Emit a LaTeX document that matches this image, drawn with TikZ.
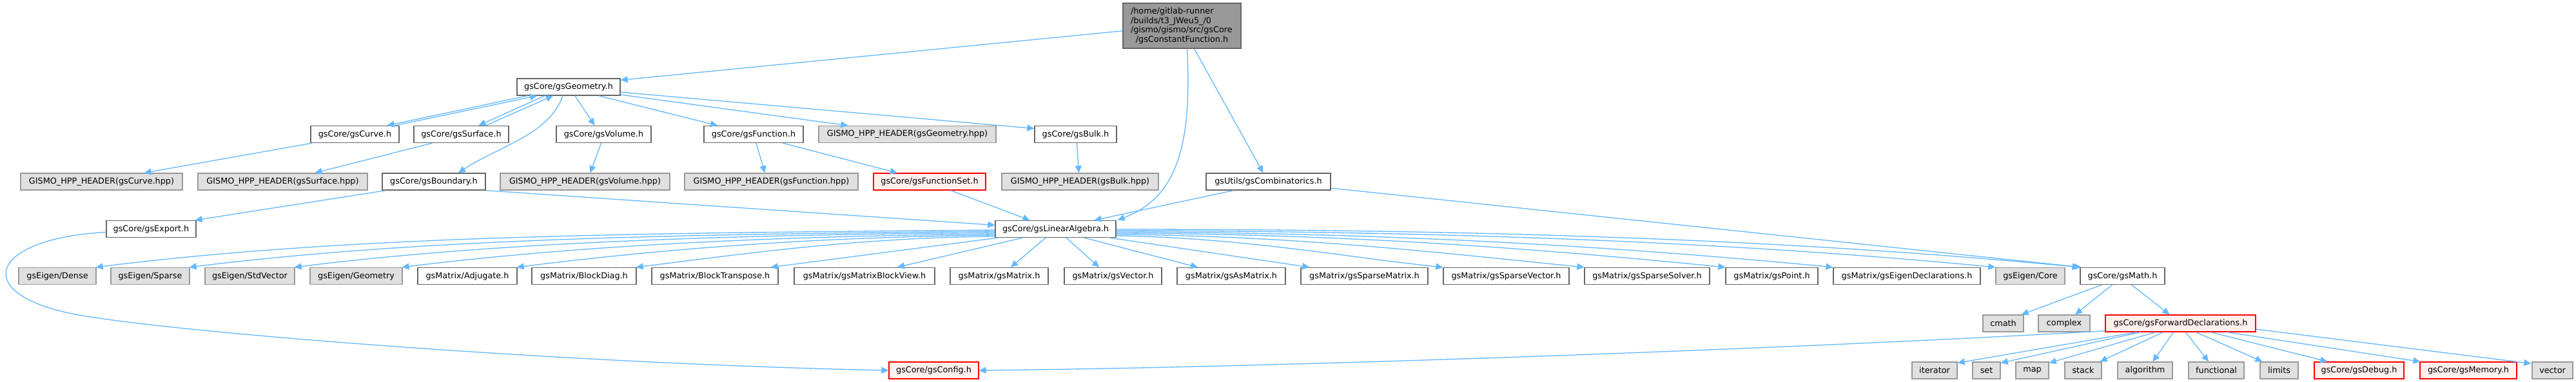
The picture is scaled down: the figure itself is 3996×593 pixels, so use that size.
\documentclass[tikz,border=0pt]{standalone}
\usepackage{fontspec}
\setmainfont{DejaVu Sans}
\usetikzlibrary{arrows.meta,calc}
\definecolor{edgec}{HTML}{63B8FF}
\definecolor{bordw}{HTML}{666666}
\definecolor{bordg}{HTML}{999999}
\definecolor{fillg}{HTML}{E0E0E0}
\definecolor{fillr}{HTML}{FFF0F0}
\definecolor{fillm}{HTML}{999999}
\begin{document}
\begin{tikzpicture}[x=1pt,y=-1pt,
 base/.style={rectangle, inner sep=0pt, minimum height=26pt, font=\fontsize{12.8}{14.7}\selectfont, line width=1.3pt, anchor=center},
 wbox/.style={base, draw=bordw, fill=white},
 gbox/.style={base, draw=bordg, fill=fillg},
 rbox/.style={base, draw=red, fill=fillr},
 mbox/.style={base, draw=bordw, fill=fillm},
 edge/.style={draw=edgec, line width=1.3pt, -{Triangle[length=11pt,width=10pt]}},
]
\fill[white] (0,0) rectangle (3996,593);
\useasboundingbox (0,0) rectangle (3996,593);

% row 1
\node[mbox, minimum width=183pt, minimum height=70pt, text width=159pt, align=left] (main) at (1833.5,40)
 {/home/gitlab-runner\\/builds/t3\_JWeu5\_/0\\/gismo/gismo/src/gsCore\\\makebox[\linewidth][c]{/gsConstantFunction.h}};
% row 2
\node[wbox, minimum width=160pt] (geom) at (882,135) {gsCore/gsGeometry.h};
% row 3
\node[wbox, minimum width=137pt] (curve) at (550.5,208.5) {gsCore/gsCurve.h};
\node[wbox, minimum width=147pt] (surface) at (715.5,208.5) {gsCore/gsSurface.h};
\node[wbox, minimum width=147pt] (volume) at (936.5,208.5) {gsCore/gsVolume.h};
\node[wbox, minimum width=154pt] (function) at (1169,208.5) {gsCore/gsFunction.h};
\node[gbox, minimum width=275pt] (geomhpp) at (1407.5,208.5) {GISMO\_HPP\_HEADER(gsGeometry.hpp)};
\node[wbox, minimum width=127pt] (bulk) at (1668.5,208.5) {gsCore/gsBulk.h};
% row 4
\node[gbox, minimum width=251pt] (curvehpp) at (157.5,282) {GISMO\_HPP\_HEADER(gsCurve.hpp)};
\node[gbox, minimum width=263pt] (surfacehpp) at (438.5,282) {GISMO\_HPP\_HEADER(gsSurface.hpp)};
\node[wbox, minimum width=160pt] (boundary) at (673,282) {gsCore/gsBoundary.h};
\node[gbox, minimum width=263pt] (volumehpp) at (907.5,282) {GISMO\_HPP\_HEADER(gsVolume.hpp)};
\node[gbox, minimum width=269pt] (functionhpp) at (1196.5,282) {GISMO\_HPP\_HEADER(gsFunction.hpp)};
\node[rbox, minimum width=174pt] (functionset) at (1442,282) {gsCore/gsFunctionSet.h};
\node[gbox, minimum width=243pt] (bulkhpp) at (1675.5,282) {GISMO\_HPP\_HEADER(gsBulk.hpp)};
\node[wbox, minimum width=193pt] (comb) at (1967.5,282) {gsUtils/gsCombinatorics.h};
% row 5
\node[wbox, minimum width=139pt] (export) at (234.5,355.5) {gsCore/gsExport.h};
\node[wbox, minimum width=187pt] (linalg) at (1637.5,355.5) {gsCore/gsLinearAlgebra.h};
% row 6
\node[gbox, minimum width=120pt] (dense) at (89,428.5) {gsEigen/Dense};
\node[gbox, minimum width=122pt] (sparse) at (233,428.5) {gsEigen/Sparse};
\node[gbox, minimum width=139pt] (stdvector) at (387.5,428.5) {gsEigen/StdVector};
\node[gbox, minimum width=143pt] (eigengeom) at (552.5,428.5) {gsEigen/Geometry};
\node[wbox, minimum width=154pt] (adjugate) at (725,428.5) {gsMatrix/Adjugate.h};
\node[wbox, minimum width=162pt] (blockdiag) at (906,428.5) {gsMatrix/BlockDiag.h};
\node[wbox, minimum width=196pt] (blocktranspose) at (1109,428.5) {gsMatrix/BlockTranspose.h};
\node[wbox, minimum width=218pt] (blockview) at (1341,428.5) {gsMatrix/gsMatrixBlockView.h};
\node[wbox, minimum width=152pt] (gsmatrix) at (1550,428.5) {gsMatrix/gsMatrix.h};
\node[wbox, minimum width=151pt] (gsvector) at (1726.5,428.5) {gsMatrix/gsVector.h};
\node[wbox, minimum width=168pt] (asmatrix) at (1910,428.5) {gsMatrix/gsAsMatrix.h};
\node[wbox, minimum width=197pt] (sparsematrix) at (2116.5,428.5) {gsMatrix/gsSparseMatrix.h};
\node[wbox, minimum width=195pt] (sparsevector) at (2336.5,428.5) {gsMatrix/gsSparseVector.h};
\node[wbox, minimum width=194pt] (sparsesolver) at (2555,428.5) {gsMatrix/gsSparseSolver.h};
\node[wbox, minimum width=143pt] (point) at (2748.5,428.5) {gsMatrix/gsPoint.h};
\node[wbox, minimum width=228pt] (eigendecl) at (2958,428.5) {gsMatrix/gsEigenDeclarations.h};
\node[gbox, minimum width=107pt] (eigencore) at (3149.5,428.5) {gsEigen/Core};
\node[wbox, minimum width=131pt] (math) at (3292.5,428.5) {gsCore/gsMath.h};
% row 7
\node[gbox, minimum width=63pt] (cmath) at (3107.5,502) {cmath};
\node[gbox, minimum width=80pt] (complex) at (3202,502) {complex};
\node[rbox, minimum width=233pt] (fwd) at (3382.5,502) {gsCore/gsForwardDeclarations.h};
% row 8
\node[rbox, minimum width=139pt] (config) at (1448.5,575) {gsCore/gsConfig.h};
\node[gbox, minimum width=70pt] (iterator) at (3001,575) {iterator};
\node[gbox, minimum width=43pt] (set) at (3081.5,575) {set};
\node[gbox, minimum width=51pt] (map) at (3152.5,575) {map};
\node[gbox, minimum width=57pt] (stack) at (3231.5,575) {stack};
\node[gbox, minimum width=85pt] (algorithm) at (3327.5,575) {algorithm};
\node[gbox, minimum width=86pt] (functional) at (3438,575) {functional};
\node[gbox, minimum width=59pt] (limits) at (3535.5,575) {limits};
\node[rbox, minimum width=139pt] (debug) at (3659.5,575) {gsCore/gsDebug.h};
\node[rbox, minimum width=150pt] (memory) at (3829,575) {gsCore/gsMemory.h};
\node[gbox, minimum width=63pt] (vector) at (3959.5,575) {vector};

% edges from main
\draw[edge] ($(main.west)+(0,8)$) -- ($(geom.north east)+(0,3)$);
\draw[edge] ($(main.south)+(8,0)$) .. controls +(8,155) and +(90,-35) .. ($(linalg.north east)+(2,0)$);
\draw[edge] ($(main.south)+(19,0)$) -- ($(comb.north)+(-8,0)$);
% gsGeometry
\draw[edge] ($(geom.south)+(-64,0)$) -- ($(curve.north)+(50,0)$);
\draw[edge] ($(curve.north)+(62,0)$) -- ($(geom.south)+(-49,0)$);
\draw[edge] ($(geom.south)+(-37,0)$) -- ($(surface.north)+(27,0)$);
\draw[edge] ($(surface.north)+(38,0)$) -- ($(geom.south)+(-24,0)$);
\draw[edge] ($(geom.south)+(-9,0)$) .. controls +(-20,60) and +(60,-40) .. ($(boundary.north)+(38,0)$);
\draw[edge] ($(geom.south)+(10,0)$) -- ($(volume.north)+(-14,0)$);
\draw[edge] ($(geom.south east)+(-34,0)$) -- ($(function.north)+(-56,0)$);
\draw[edge] ($(geom.east)+(0,12)$) -- ($(geomhpp.north west)+(46,0)$);
\draw[edge] ($(geom.east)+(0,8)$) -- ($(bulk.west)+(0,-9)$);
% row 3 -> row 4
\draw[edge] ($(curve.south west)+(3,0)$) -- ($(curvehpp.north)+(66,0)$);
\draw[edge] ($(surface.south)+(-45,0)$) -- ($(surfacehpp.north)+(50,0)$);
\draw[edge] ($(volume.south)+(-4,0)$) -- ($(volumehpp.north)+(8,0)$);
\draw[edge] ($(function.south)+(4,0)$) -- ($(functionhpp.north)+(-10,0)$);
\draw[edge] ($(function.south)+(45,0)$) -- ($(functionset.north)+(-50,0)$);
\draw[edge] ($(bulk.south)+(2,0)$) -- ($(bulkhpp.north)+(-2,0)$);
% row 4 -> row 5
\draw[edge] ($(boundary.south west)+(6,0)$) -- ($(export.north east)+(-2,0)$);
\draw[edge] (boundary.south east) -- ($(linalg.west)+(0,-6)$);
\draw[edge] ($(functionset.south)+(33,0)$) -- ($(linalg.north)+(-40,0)$);
\draw[edge] ($(comb.south)+(-54,0)$) -- ($(linalg.north)+(60,0)$);
\draw[edge] ($(comb.east)+(0,10)$) -- ($(math.north west)+(2,0)$);
% gsExport -> gsConfig
\draw[edge] ($(export.west)+(0,5)$) .. controls (-20,370) and (-50,460) .. (128,490) .. controls (300,519) and (900,565) .. (config.west);
% gsLinearAlgebra -> row 6
\draw[edge] ($(linalg.west)+(0,1.5)$) .. controls +(-545,5) and +(400,-50) .. ($(dense.north east)+(-1,0)$);
\draw[edge] ($(linalg.west)+(0,3.5)$) .. controls +(-488,5) and +(363,-45) .. ($(sparse.north east)+(-1,0)$);
\draw[edge] ($(linalg.west)+(0,5.5)$) .. controls +(-424,4) and +(316,-39) .. ($(stdvector.north east)+(-1,0)$);
\draw[edge] ($(linalg.west)+(0,7.5)$) .. controls +(-359,4) and +(267,-33) .. ($(eigengeom.north east)+(-1,0)$);
\draw[edge] ($(linalg.west)+(0,9.5)$) .. controls +(-290,3) and +(215,-27) .. ($(adjugate.north east)+(-1,0)$);
\draw[edge] ($(linalg.west)+(0,11.5)$) .. controls +(-218,2) and +(162,-20) .. ($(blockdiag.north east)+(-1,0)$);
\draw[edge] ($(linalg.south west)+(4,0)$) -- ($(blocktranspose.north east)+(-12,0)$);
\draw[edge] ($(linalg.south west)+(43,0)$) -- ($(blockview.north)+(51,0)$);
\draw[edge] ($(linalg.south)+(-15.5,0)$) -- ($(gsmatrix.north)+(18,0)$);
\draw[edge] ($(linalg.south)+(16.5,0)$) -- ($(gsvector.north)+(-21.5,0)$);
\draw[edge] ($(linalg.south)+(44.5,0)$) -- ($(asmatrix.north)+(-52,0)$);
\draw[edge] ($(linalg.south east)+(-10,0)$) -- ($(sparsematrix.north west)+(14,0)$);
\draw[edge] ($(linalg.east)+(0,10.5)$) .. controls +(198,3) and +(-147,-15) .. (sparsevector.north west);
\draw[edge] ($(linalg.east)+(0,8.5)$) .. controls +(284,2) and +(-211,-21) .. (sparsesolver.north west);
\draw[edge] ($(linalg.east)+(0,6.5)$) .. controls +(369,1) and +(-274,-27) .. (point.north west);
\draw[edge] ($(linalg.east)+(0,4.5)$) .. controls +(434,1) and +(-323,-31) .. (eigendecl.north west);
\draw[edge] ($(linalg.east)+(0,2.5)$) .. controls +(532,1) and +(-396,-38) .. (eigencore.north west);
\draw[edge] ($(linalg.east)+(0,0.5)$) .. controls +(583,0) and +(-434,-42) .. ($(math.north west)+(-1,0)$);
% gsMath
\draw[edge] ($(math.south)+(-32,0)$) -- ($(cmath.north east)+(-4,0)$);
\draw[edge] ($(math.south)+(-16,0)$) -- ($(complex.north)+(17,0)$);
\draw[edge] ($(math.south)+(14,0)$) -- ($(fwd.north)+(-17,0)$);
% gsForwardDeclarations
\draw[edge] ($(fwd.south west)+(0,-2)$) .. controls +(-466,27) and +(482,-5) .. (config.east);
\draw[edge] ($(fwd.south)+(-68,0)$) -- ($(iterator.north east)+(0,2)$);
\draw[edge] ($(fwd.south)+(-62,0)$) -- ($(set.north east)+(0,2)$);
\draw[edge] ($(fwd.south)+(-39,0)$) -- ($(map.north east)+(0,2)$);
\draw[edge] ($(fwd.south)+(-27,0)$) -- ($(stack.north east)+(-3,0)$);
\draw[edge] ($(fwd.south)+(-11,0)$) -- ($(algorithm.north)+(12,0)$);
\draw[edge] ($(fwd.south)+(8,0)$) -- ($(functional.north)+(-12,0)$);
\draw[edge] ($(fwd.south)+(24,0)$) -- ($(limits.north)+(-26,0)$);
\draw[edge] ($(fwd.south)+(47,0)$) -- ($(debug.north west)+(21,0)$);
\draw[edge] ($(fwd.south)+(72,0)$) -- ($(memory.north west)+(1,0)$);
\draw[edge] ($(fwd.east)+(0,9)$) -- ($(vector.north west)+(-1,3)$);
\end{tikzpicture}
\end{document}
